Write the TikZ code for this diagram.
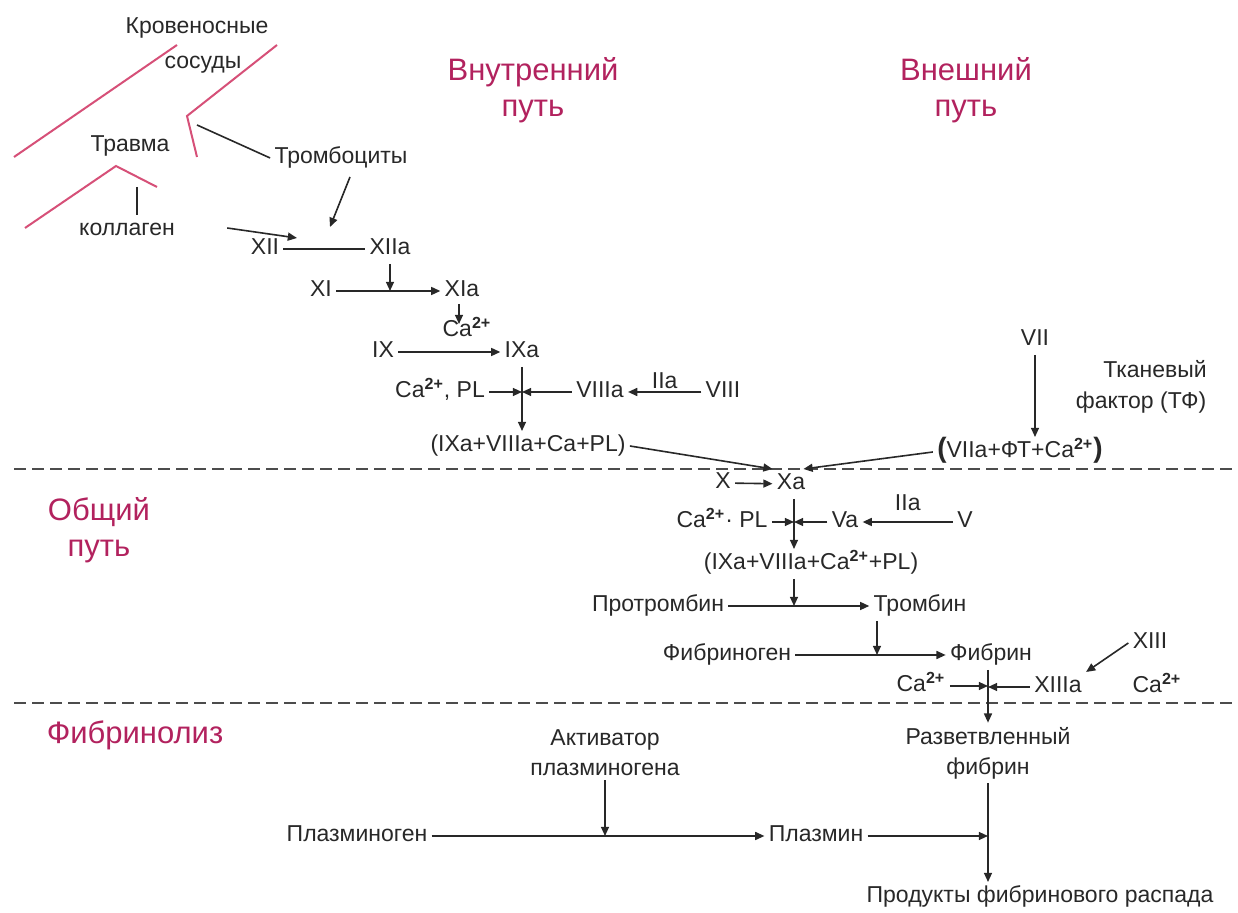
\documentclass[tikz,border=0pt]{standalone}
\usepackage{fontspec}
\setmainfont{Liberation Sans}
\usetikzlibrary{arrows.meta,calc}
\definecolor{purp}{RGB}{178,34,94}
\definecolor{pinkl}{RGB}{214,80,120}
\definecolor{ink}{RGB}{40,40,40}
\newcommand{\cas}{Ca\textsuperscript{\bfseries 2+}}
\begin{document}
\begin{tikzpicture}[x=0.5pt,y=-0.5pt,
  t/.style={font=\fontsize{11.5}{13}\selectfont, text=ink, inner sep=2pt, text height=8.3pt, text depth=2.3pt},
  t2/.style={font=\fontsize{11.5}{15}\selectfont, text=ink, inner sep=2pt, align=center},
  pu/.style={font=\fontsize{15.5}{18}\selectfont, text=purp, align=center},
  arr/.style={draw=ink, line width=0.8pt, -{Triangle[length=4.6pt,width=4pt]}},
  ln/.style={draw=ink, line width=0.8pt},
  pk/.style={draw=pinkl, line width=1pt},
  dsh/.style={draw=black!70, line width=1pt, dash pattern=on 6pt off 3pt}]
\useasboundingbox (0,0) rectangle (1238,913);

% section labels
\node[pu] (vnutr) at (533,90) {Внутренний\\путь};
\node[pu] (vnesh) at (966,90) {Внешний\\путь};
\node[pu] (obsh) at (99,530) {Общий\\путь};
\node[pu] (fibl) at (135,735) {Фибринолиз};

% dashed separators
\draw[dsh] (14,469) -- (1238,469);
\draw[dsh] (14,703) -- (1238,703);

% vessels (pink)
\draw[pk] (14,157) -- (177,45);
\draw[pk] (277,45) -- (187,116) -- (197,157);
\draw[pk] (25,228) -- (116,166) -- (157,187);

% top texts
\node[t] (krov) at (197,28) {Кровеносные};
\node[t] (sos) at (203,63) {сосуды};
\node[t] (travma) at (130,146) {Травма};
\node[t] (koll) at (127,230) {коллаген};
\node[t] (tromb) at (341,158) {Тромбоциты};
\coordinate (corner) at (197,125);
\coordinate (tick) at (137,187);
\coordinate (xiiin) at (297,238);
\coordinate (trin) at (330,227);

% intrinsic path
\node[t] (xii) at (265,249) {XII};
\node[t] (xiia) at (390,249) {XIIa};
\node[t] (xi) at (321,291) {XI};
\node[t] (xia) at (462,291) {XIa};
\node[t] (ca1) at (467,331) {\cas};
\node[t] (ix) at (383,352) {IX};
\node[t] (ixa) at (522,352) {IXa};
\node[t] (capl1) at (440,392) {\cas, PL};
\node[t] (viiia) at (600,392) {VIIIa};
\node[t] (viii) at (723,392) {VIII};
\node[t] (cx1) at (528,446) {(IXa+VIIIa+Ca+PL)};

% extrinsic path
\node[t] (vii) at (1035,340) {VII};
\node[t] (tkan) at (1155,372) {Тканевый};
\node[t] (fakt) at (1141,403) {фактор (ТФ)};
\node[t] (cx2) at (1020,452) {{\fontsize{14}{14}\selectfont\bfseries(}VIIa+ФТ+\cas{\fontsize{14}{14}\selectfont\bfseries)}};

% common path
\node[t] (x) at (723,483) {X};
\node[t] (xa) at (791,484) {Xa};
\node[t] (capl2) at (722,522) {\cas· PL};
\node[t] (va) at (845,522) {Va};
\node[t] (v) at (965,522) {V};
\node[t] (cx3) at (811,564) {(IXa+VIIIa+\cas+PL)};
\node[t] (protr) at (658,606) {Протромбин};
\node[t] (thr) at (920,606) {Тромбин};
\node[t] (fgen) at (727,655) {Фибриноген};
\node[t] (fib) at (991,655) {Фибрин};
\node[t] (xiii) at (1150,643) {XIII};
\node[t] (ca3) at (921,686) {\cas};
\node[t] (xiiia) at (1058,687) {XIIIa};
\node[t] (ca4) at (1157,687) {\cas};

% fibrinolysis
\node[t2] (razv) at (988,753) {Разветвленный\\фибрин};
\node[t2] (akt) at (605,753) {Активатор\\плазминогена};
\node[t] (plg) at (357,836) {Плазминоген};
\node[t] (plm) at (816,836) {Плазмин};
\node[t] (prod) at (1040,897) {Продукты фибринового распада};

% connectors: top
\draw[ln] (corner) -- (tromb.west);
\draw[ln] (tick) -- (tick |- koll.north);
\draw[arr] ($(koll.east)+(48,-2)$) -- (xiiin);
\draw[arr] ($(tromb.south)+(9,4)$) -- (trin);
\draw[ln] (xii) -- (xiia);
\draw[arr] (xiia.south) -- (xiia.south |- xi.center);
\draw[arr] (xi) -- (xia);
\coordinate (xiav) at ($(xia.south)+(-3,-2)$);
\draw[arr] (xiav) -- ($(xiav)+(0,20)$);
\draw[arr] (ix) -- (ixa);
\draw[arr] (ixa.south) -- (ixa.south |- cx1.north);
\draw[arr] (capl1.east) -- (capl1.east -| ixa.south);
\draw[arr] (viiia.west) -- (viiia.west -| ixa.south);
\draw[arr] (viii) -- node[t, above=-3pt] {IIa} (viiia);
\draw[arr] (cx1.east) -- (xa.north west);

% extrinsic
\draw[arr] (vii.south) -- (vii.south |- cx2.north);
\draw[arr] (cx2.west) -- ($(xa.north east)+(-6,0)$);

% common
\draw[arr] (x) -- (xa);
\coordinate (xav) at ($(xa.south)+(3,0)$);
\draw[arr] (xav) -- (xav |- cx3.north);
\draw[arr] (capl2.east) -- (capl2.east -| xav);
\draw[arr] (va.west) -- (va.west -| xav);
\draw[arr] (v) -- node[t, above=1pt] {IIa} (va);
\draw[arr] (cx3.south -| xav) -- (xav |- protr.center);
\draw[arr] (protr) -- (thr);
\coordinate (thv) at ($(thr.south)+(-43,0)$);
\draw[arr] (thv) -- (thv |- fgen.center);
\draw[arr] (fgen) -- (fib);
\draw[arr] (xiii.west) -- (xiiia.north east);
\draw[arr] (ca3.east) -- (ca3.east -| razv.north);
\draw[arr] (xiiia.west) -- (xiiia.west -| razv.north);
\draw[arr] (razv.north |- fib.south) -- (razv.north);

% fibrinolysis connectors
\draw[arr] (akt.south) -- (akt.south |- plg.center);
\draw[arr] (plg) -- (plm);
\draw[arr] (plm.east) -- (plm.east -| razv.south);
\draw[arr] (razv.south) -- (razv.south |- prod.north);
\end{tikzpicture}
\end{document}
